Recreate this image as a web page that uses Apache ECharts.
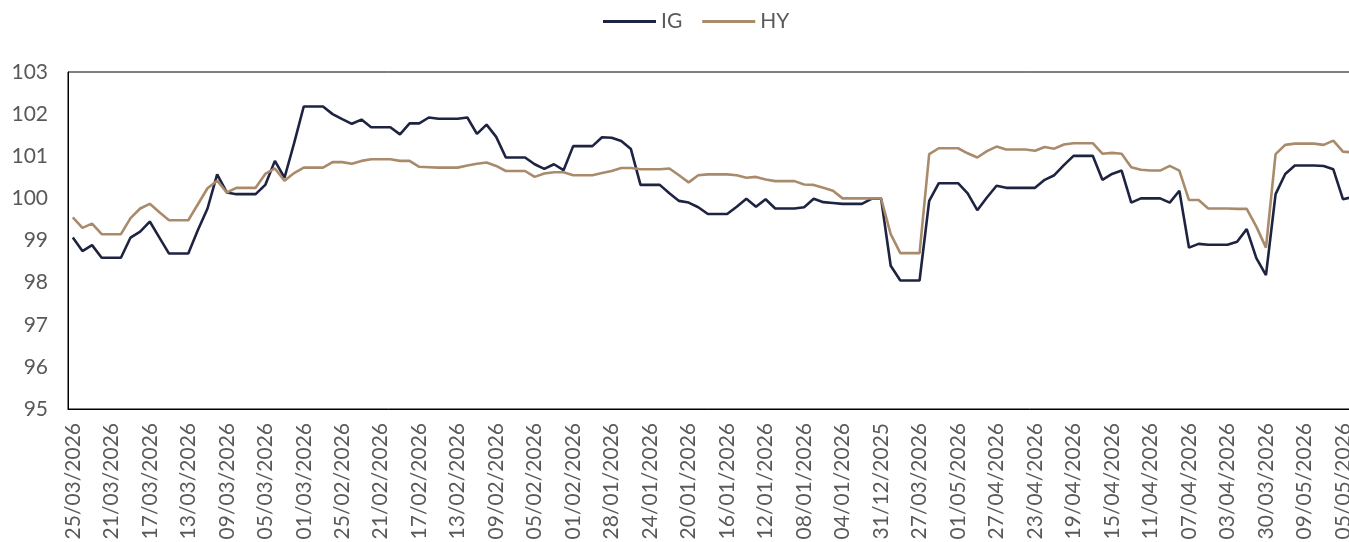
<!DOCTYPE html>
<html>
<head>
<meta charset="utf-8">
<script src="https://cdn.jsdelivr.net/npm/echarts@6/dist/echarts.min.js"></script>
<style>
html,body{margin:0;padding:0;background:#fff;}
#chart{width:1349px;height:542px;}
</style>
</head>
<body>
<div id="chart"></div>
<script>
const categories = [
'25/03/2026','24/03/2026','23/03/2026','22/03/2026','21/03/2026','20/03/2026','19/03/2026','18/03/2026','17/03/2026','16/03/2026',
'15/03/2026','14/03/2026','13/03/2026','12/03/2026','11/03/2026','10/03/2026','09/03/2026','08/03/2026','07/03/2026','06/03/2026',
'05/03/2026','04/03/2026','03/03/2026','02/03/2026','01/03/2026','28/02/2026','27/02/2026','26/02/2026','25/02/2026','24/02/2026',
'23/02/2026','22/02/2026','21/02/2026','20/02/2026','19/02/2026','18/02/2026','17/02/2026','16/02/2026','15/02/2026','14/02/2026',
'13/02/2026','12/02/2026','11/02/2026','10/02/2026','09/02/2026','08/02/2026','07/02/2026','06/02/2026','05/02/2026','04/02/2026',
'03/02/2026','02/02/2026','01/02/2026','31/01/2026','30/01/2026','29/01/2026','28/01/2026','27/01/2026','26/01/2026','25/01/2026',
'24/01/2026','23/01/2026','22/01/2026','21/01/2026','20/01/2026','19/01/2026','18/01/2026','17/01/2026','16/01/2026','15/01/2026',
'14/01/2026','13/01/2026','12/01/2026','11/01/2026','10/01/2026','09/01/2026','08/01/2026','07/01/2026','06/01/2026','05/01/2026',
'04/01/2026','03/01/2026','02/01/2026','01/01/2026','31/12/2025','30/12/2025','29/12/2025','28/12/2025','27/03/2026','26/03/2026',
'12/05/2026','02/05/2026','01/05/2026','30/04/2026','29/04/2026','28/04/2026','27/04/2026','26/04/2026','25/04/2026','24/04/2026',
'23/04/2026','22/04/2026','21/04/2026','20/04/2026','19/04/2026','18/04/2026','17/04/2026','16/04/2026','15/04/2026','14/04/2026',
'13/04/2026','12/04/2026','11/04/2026','10/04/2026','09/04/2026','08/04/2026','07/04/2026','06/04/2026','05/04/2026','04/04/2026',
'03/04/2026','02/04/2026','01/04/2026','31/03/2026','30/03/2026','29/03/2026','28/03/2026','10/05/2026','09/05/2026','08/05/2026',
'07/05/2026','06/05/2026','05/05/2026','04/05/2026','03/05/2026'
];

const igValues = [
99.07,98.75,98.89,98.59,98.59,98.59,99.07,99.21,99.45,99.07,
98.69,98.69,98.69,99.25,99.76,100.57,100.14,100.10,100.10,100.10,
100.32,100.89,100.49,101.31,102.18,102.18,102.18,102.00,101.88,101.77,
101.87,101.69,101.69,101.69,101.52,101.78,101.78,101.92,101.89,101.89,
101.89,101.92,101.53,101.75,101.46,100.97,100.97,100.97,100.81,100.70,
100.81,100.67,101.24,101.24,101.24,101.45,101.44,101.36,101.17,100.32,
100.32,100.32,100.12,99.94,99.90,99.79,99.63,99.63,99.63,99.80,
99.99,99.80,99.98,99.76,99.76,99.76,99.79,99.99,99.91,99.89,
99.87,99.87,99.87,99.99,100.00,98.40,98.05,98.05,98.05,99.94,
100.36,100.36,100.36,100.12,99.72,100.02,100.30,100.25,100.25,100.25,
100.25,100.44,100.55,100.79,101.01,101.01,101.01,100.44,100.58,100.66,
99.90,100.00,100.00,100.00,99.90,100.18,98.83,98.92,98.90,98.90,
98.90,98.97,99.27,98.58,98.18,100.10,100.58,100.78,100.78,100.78,
100.77,100.69,99.98,100.03,100.05
];

const hyValues = [
99.55,99.30,99.40,99.15,99.15,99.15,99.53,99.76,99.87,99.67,
99.48,99.48,99.48,99.86,100.24,100.42,100.14,100.25,100.25,100.25,
100.58,100.71,100.42,100.60,100.73,100.73,100.73,100.86,100.86,100.82,
100.89,100.93,100.93,100.93,100.89,100.89,100.75,100.74,100.73,100.73,
100.73,100.78,100.82,100.85,100.77,100.65,100.65,100.65,100.51,100.59,
100.62,100.62,100.55,100.55,100.55,100.60,100.65,100.72,100.72,100.69,
100.69,100.69,100.71,100.55,100.38,100.55,100.57,100.57,100.57,100.55,
100.49,100.51,100.45,100.41,100.41,100.41,100.33,100.32,100.25,100.18,
100.00,100.00,100.00,100.00,100.00,99.15,98.70,98.70,98.70,101.05,
101.19,101.19,101.19,101.07,100.97,101.12,101.23,101.16,101.16,101.16,
101.13,101.22,101.18,101.28,101.31,101.31,101.31,101.06,101.08,101.06,
100.74,100.68,100.66,100.66,100.77,100.66,99.96,99.96,99.76,99.76,
99.76,99.75,99.75,99.33,98.83,101.05,101.27,101.30,101.30,101.30,
101.27,101.37,101.11,101.09,101.10
];

const seriesNames = ['IG', 'HY'];
const yMin = 95, yMax = 103, yStep = 1;

const FONT = 'Lato';
const TXT = '#595959';
const IG_COLOR = '#1d2340';
const HY_COLOR = '#a98b6c';

const chart = echarts.init(document.getElementById('chart'), null, {renderer: 'canvas'});
chart.setOption({
  animation: false,
  backgroundColor: '#ffffff',
  legend: {
    left: 603,
    top: 8,
    padding: [3, 0, 0, 0],
    icon: 'rect',
    itemWidth: 53,
    itemHeight: 3,
    itemGap: 20,
    textStyle: {fontFamily: FONT, fontSize: 21, color: TXT},
    data: seriesNames
  },
  grid: {
    left: 68,
    top: 72,
    bottom: 133,
    width: 1299,
    outerBoundsMode: 'none',
    show: true,
    borderColor: '#000000',
    borderWidth: 1,
    containLabel: false
  },
  xAxis: {
    type: 'category',
    data: categories,
    boundaryGap: true,
    axisLine: {show: true, lineStyle: {color: '#000000', width: 1}},
    axisTick: {show: false},
    splitLine: {show: false},
    axisLabel: {
      interval: 3,
      rotate: 90,
      margin: 14,
      fontFamily: FONT,
      fontSize: 21,
      color: TXT
    }
  },
  yAxis: {
    type: 'value',
    min: yMin,
    max: yMax,
    interval: yStep,
    axisLine: {show: true, lineStyle: {color: '#000000', width: 1}},
    axisTick: {show: false},
    splitLine: {show: false},
    axisLabel: {
      margin: 20,
      fontFamily: FONT,
      fontSize: 21,
      color: TXT
    }
  },
  series: [
    {
      name: seriesNames[0],
      type: 'line',
      data: igValues,
      symbol: 'none',
      lineStyle: {color: IG_COLOR, width: 2.6},
      itemStyle: {color: IG_COLOR}
    },
    {
      name: seriesNames[1],
      type: 'line',
      data: hyValues,
      symbol: 'none',
      lineStyle: {color: HY_COLOR, width: 2.6},
      itemStyle: {color: HY_COLOR}
    }
  ]
});
</script>
</body>
</html>
